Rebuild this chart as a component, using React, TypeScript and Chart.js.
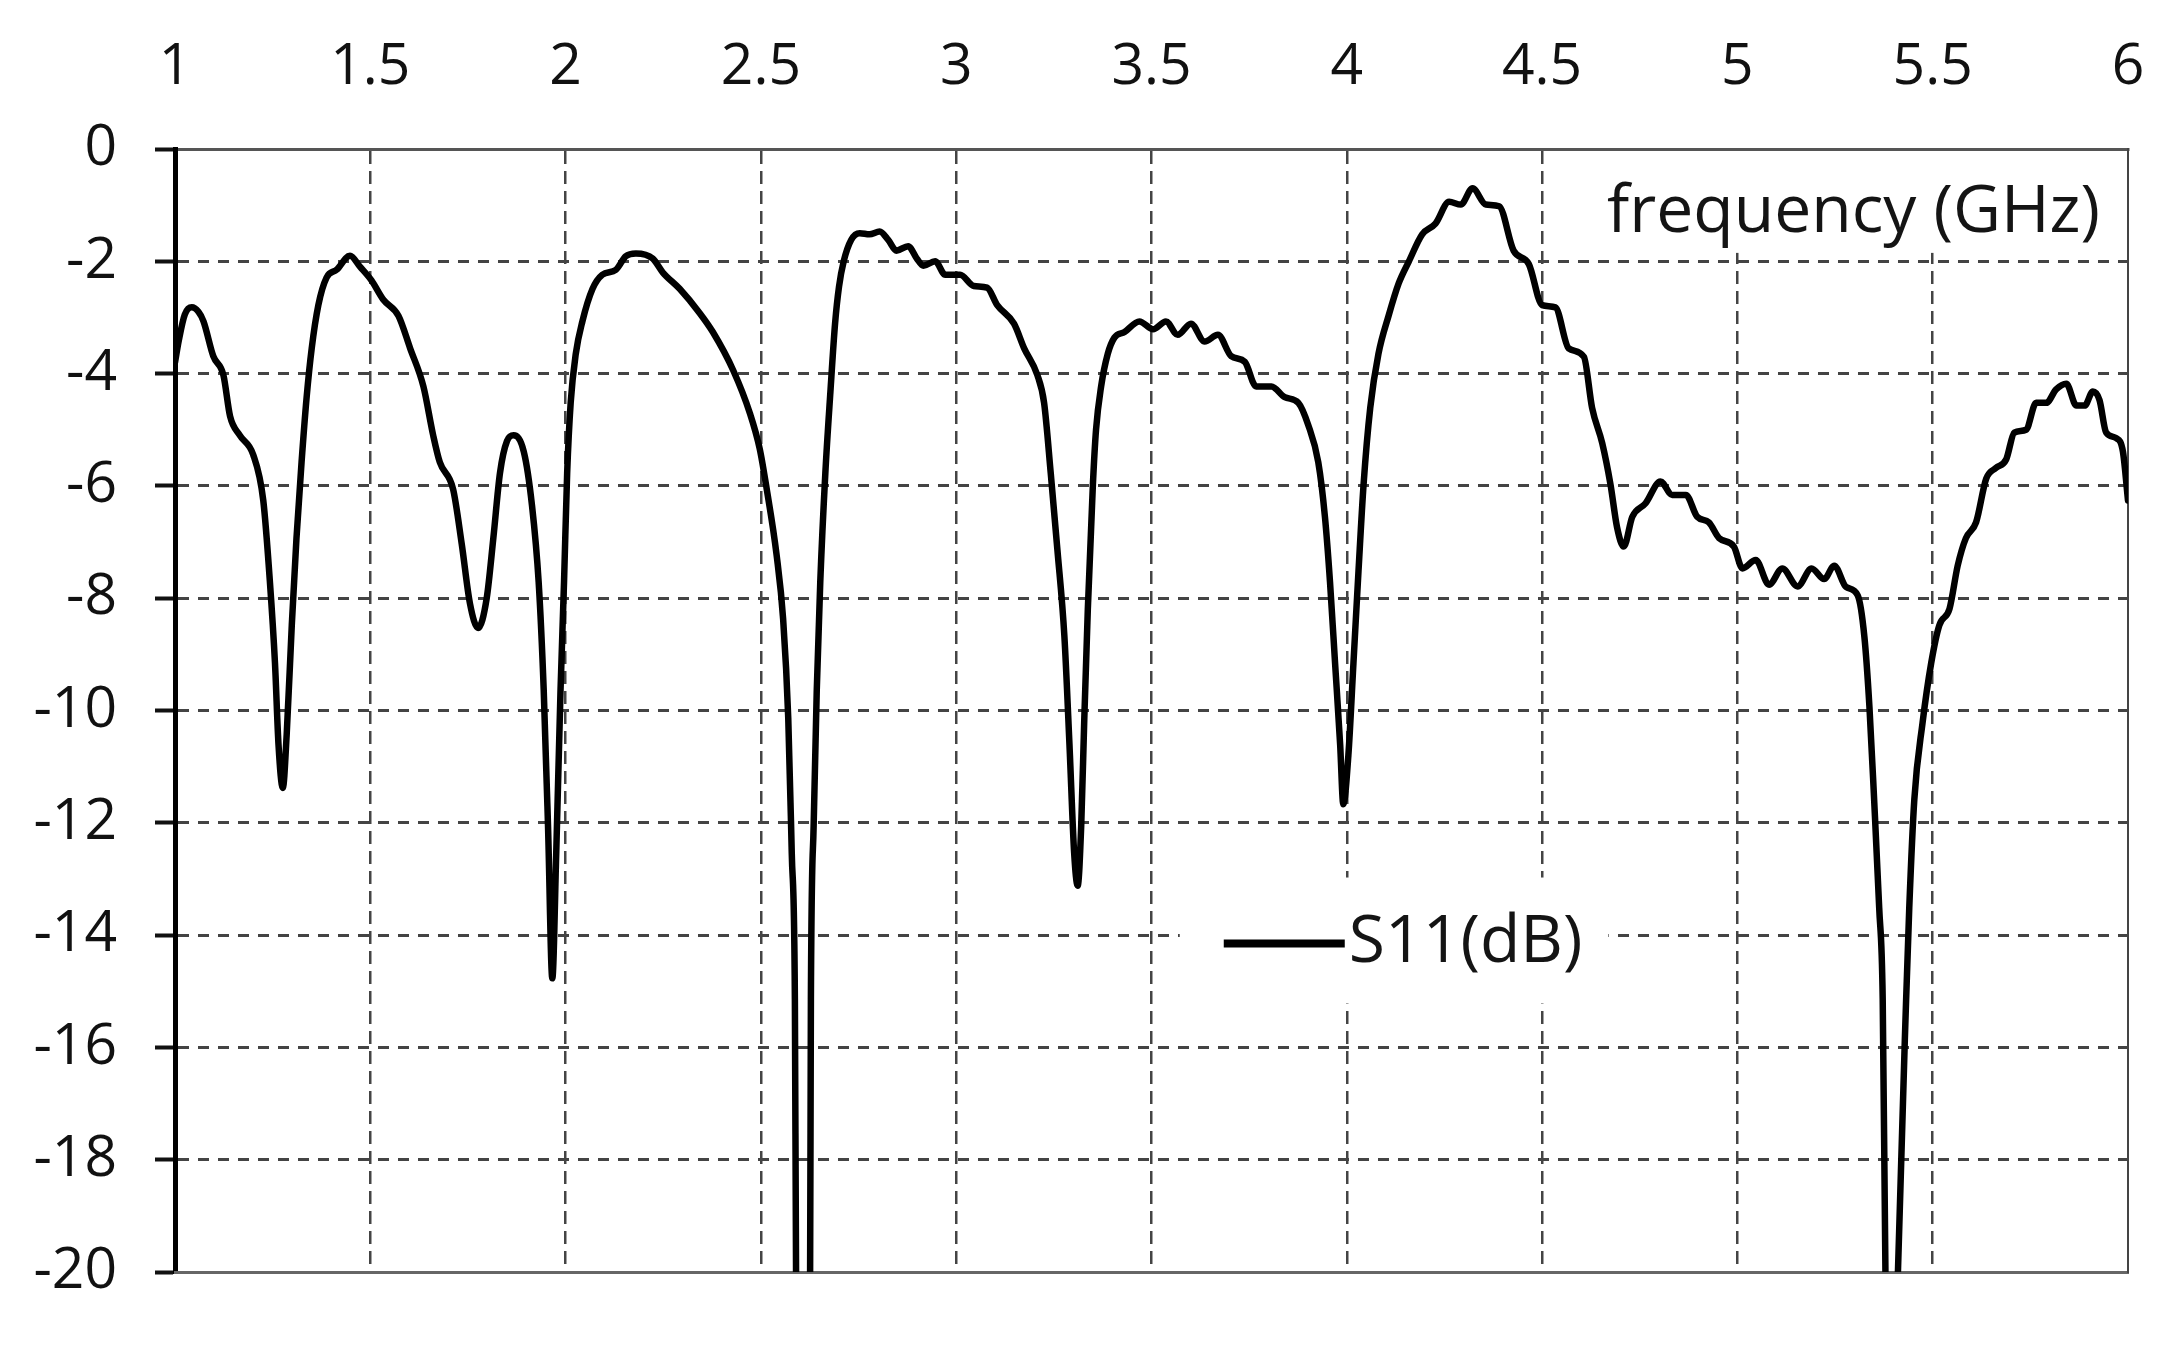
import React, { useEffect, useRef } from 'react';
import { Chart, registerables } from 'chart.js';

Chart.register(...registerables);

const FONT = "'Open Sans', sans-serif";

// Frequency samples (GHz)
const frequencyGHz = [
  1.0, 1.01, 1.025, 1.043, 1.06, 1.073, 1.098, 1.124, 1.141, 1.166, 1.2, 1.226, 1.243, 1.256, 1.265, 1.276,
  1.286, 1.299, 1.311, 1.324, 1.337, 1.35, 1.367, 1.388, 1.414, 1.448, 1.474, 1.503, 1.533, 1.572, 1.602,
  1.636, 1.661, 1.678, 1.712, 1.734, 1.755, 1.776, 1.798, 1.815, 1.832, 1.85, 1.867, 1.893, 1.914, 1.931,
  1.944, 1.955, 1.966, 1.976, 1.987, 1.996, 2.004, 2.013, 2.026, 2.043, 2.069, 2.094, 2.129, 2.154, 2.18,
  2.223, 2.249, 2.292, 2.343, 2.377, 2.429, 2.472, 2.497, 2.515, 2.54, 2.557, 2.57, 2.579, 2.587, 2.59,
  2.608, 2.626, 2.628, 2.635, 2.643, 2.652, 2.665, 2.678, 2.69, 2.7, 2.712, 2.731, 2.753, 2.778, 2.804,
  2.826, 2.847, 2.877, 2.899, 2.916, 2.946, 2.972, 3.01, 3.045, 3.079, 3.105, 3.148, 3.174, 3.208, 3.225,
  3.242, 3.259, 3.277, 3.29, 3.302, 3.311, 3.32, 3.328, 3.337, 3.35, 3.358, 3.371, 3.388, 3.405, 3.431,
  3.469, 3.504, 3.537, 3.567, 3.601, 3.636, 3.67, 3.704, 3.739, 3.768, 3.807, 3.841, 3.876, 3.901, 3.927,
  3.944, 3.957, 3.97, 3.983, 3.991, 4.004, 4.017, 4.03, 4.043, 4.06, 4.081, 4.107, 4.133, 4.159, 4.193,
  4.227, 4.262, 4.292, 4.322, 4.356, 4.39, 4.427, 4.466, 4.5, 4.534, 4.568, 4.607, 4.628, 4.654, 4.675,
  4.692, 4.709, 4.731, 4.765, 4.803, 4.833, 4.868, 4.897, 4.927, 4.953, 4.991, 5.013, 5.047, 5.081, 5.115,
  5.154, 5.19, 5.222, 5.248, 5.278, 5.308, 5.325, 5.338, 5.35, 5.363, 5.372, 5.379, 5.395, 5.411, 5.432,
  5.44, 5.453, 5.474, 5.496, 5.517, 5.543, 5.564, 5.585, 5.611, 5.637, 5.662, 5.688, 5.709, 5.739, 5.765,
  5.791, 5.816, 5.842, 5.868, 5.889, 5.91, 5.927, 5.944, 5.97, 5.987, 6.0,
];

// S11 magnitude (dB) at each frequency sample
const s11dB = [
  -3.8, -3.4, -2.95, -2.82, -2.9, -3.07, -3.69, -4.03, -4.76, -5.1, -5.44, -6.26, -7.71, -9.16, -10.61, -11.38,
  -10.42, -8.48, -6.93, -5.58, -4.42, -3.55, -2.78, -2.29, -2.15, -1.9, -2.1, -2.34, -2.68, -2.97, -3.55,
  -4.23, -5.1, -5.58, -6.06, -7.03, -8.09, -8.53, -8.0, -6.93, -5.77, -5.2, -5.1, -5.39, -6.35, -7.71,
  -9.64, -12.06, -14.77, -12.54, -9.64, -7.71, -5.77, -4.52, -3.65, -3.07, -2.49, -2.24, -2.15, -1.91, -1.86,
  -1.95, -2.2, -2.49, -2.92, -3.26, -3.94, -4.71, -5.34, -6.06, -7.22, -8.38, -10.13, -12.54, -15.14, -20,
  -25, -20, -15.14, -12.06, -9.64, -7.71, -5.77, -4.32, -3.1, -2.45, -2.0, -1.62, -1.5, -1.52, -1.47,
  -1.62, -1.81, -1.73, -1.95, -2.08, -2.0, -2.24, -2.24, -2.44, -2.47, -2.78, -3.11, -3.55, -4.03, -4.52,
  -5.77, -7.13, -8.68, -10.61, -12.54, -13.12, -12.06, -10.13, -8.19, -5.97, -5.0, -4.23, -3.65, -3.36, -3.26,
  -3.07, -3.21, -3.07, -3.31, -3.11, -3.43, -3.31, -3.69, -3.79, -4.23, -4.23, -4.42, -4.52, -4.91, -5.58,
  -6.55, -7.71, -9.16, -10.61, -11.67, -10.8, -9.16, -7.51, -5.97, -4.61, -3.65, -2.97, -2.39, -2.0, -1.52,
  -1.33, -0.94, -0.99, -0.7, -0.99, -1.02, -1.81, -2.05, -2.78, -2.82, -3.55, -3.7, -4.61, -5.24, -5.97,
  -6.74, -7.08, -6.55, -6.31, -5.92, -6.16, -6.16, -6.55, -6.65, -6.93, -7.08, -7.47, -7.32, -7.76, -7.47,
  -7.79, -7.47, -7.66, -7.42, -7.8, -7.95, -8.68, -9.93, -11.58, -13.51, -15.14, -20, -25, -20, -15.14,
  -13.51, -11.58, -10.22, -9.16, -8.48, -8.19, -7.42, -6.93, -6.65, -5.87, -5.68, -5.53, -5.05, -5.0, -4.52,
  -4.52, -4.28, -4.18, -4.57, -4.57, -4.32, -4.47, -5.05, -5.15, -5.39, -6.26,
];

const xRange = [1, 6];
const xTickStep = 0.5;
const yRange = [-20, 0];
const yTickStep = 2;
const seriesLabel = 'S11(dB)';
const xAxisTitle = 'frequency (GHz)';

const insideLabels = {
  id: 'insideLabels',
  afterDatasetsDraw(chart: any) {
    const { ctx, chartArea, scales } = chart;
    const xs = scales.x;
    const ys = scales.y;
    ctx.save();

    // axis title inside the plot, top right
    const title = chart.options.scales.x.title.text;
    ctx.font = `66px ${FONT}`;
    const tw = ctx.measureText(title).width;
    const tx = chartArea.right - 28;
    const ty = chartArea.top + 64;
    const boxBottom = ys.getPixelForValue(-1.85);
    ctx.fillStyle = '#ffffff';
    ctx.fillRect(tx - tw - 26, chartArea.top + 2, tw + 26 + 25, boxBottom - chartArea.top - 2);
    ctx.fillStyle = '#141414';
    ctx.textAlign = 'right';
    ctx.textBaseline = 'middle';
    ctx.fillText(title, tx, ty);

    // legend inside the plot
    const ds = chart.data.datasets[0];
    const lx = xs.getPixelForValue(3.685);
    const ly = ys.getPixelForValue(-14.15);
    ctx.font = `66px ${FONT}`;
    const lw = ctx.measureText(ds.label).width;
    const lineLen = 121;
    const textX = lx + lineLen + 4;
    ctx.fillStyle = '#ffffff';
    ctx.fillRect(lx - 44, ly - 66, lineLen + 4 + lw + 26 + 44, 126);
    ctx.strokeStyle = ds.borderColor;
    ctx.lineWidth = 8;
    ctx.beginPath();
    ctx.moveTo(lx, ly);
    ctx.lineTo(lx + lineLen, ly);
    ctx.stroke();
    ctx.fillStyle = '#141414';
    ctx.textAlign = 'left';
    ctx.textBaseline = 'middle';
    ctx.fillText(ds.label, textX, ly);
    ctx.restore();
  },
};

const edgeAware = (minV: number, maxV: number, color: string) => (c: any) => {
  const v = c.tick ? c.tick.value : NaN;
  return Math.abs(v - minV) < 1e-9 || Math.abs(v - maxV) < 1e-9 ? 'rgba(0,0,0,0)' : color;
};

export default function App() {
  const canvasRef = useRef<HTMLCanvasElement | null>(null);

  useEffect(() => {
    const canvas = canvasRef.current;
    if (!canvas) return;
    const points = frequencyGHz.map((f, i) => ({ x: f, y: s11dB[i] }));
    const chart = new Chart(canvas, {
      type: 'line',
      data: {
        datasets: [
          {
            label: seriesLabel,
            data: points,
            borderColor: '#000000',
            backgroundColor: '#000000',
            borderWidth: 6.5,
            pointRadius: 0,
            cubicInterpolationMode: 'monotone',
            borderJoinStyle: 'round',
            borderCapStyle: 'round',
            fill: false,
          },
        ],
      },
      options: {
        responsive: false,
        animation: false,
        devicePixelRatio: 1,
        layout: { padding: { left: 0, top: 0, right: 36, bottom: 73 } },
        plugins: {
          legend: { display: false },
          tooltip: { enabled: false },
        },
        scales: {
          x: {
            type: 'linear',
            position: 'top',
            min: xRange[0],
            max: xRange[1],
            title: { display: false, text: xAxisTitle },
            ticks: {
              stepSize: xTickStep,
              autoSkip: false,
              maxRotation: 0,
              padding: 0,
              color: '#111111',
              font: { family: FONT, size: 57 },
              callback: (v: any) => String(Math.round(Number(v) * 100) / 100),
            },
            grid: {
              color: edgeAware(xRange[0], xRange[1], '#444444'),
              lineWidth: 2.5,
              drawTicks: true,
              tickLength: 47,
              tickColor: 'rgba(0,0,0,0)',
            },
            border: { display: true, color: '#555555', width: 3, dash: [13, 7] },
            afterFit: (s: any) => {
              s.height = 149;
            },
          },
          y: {
            type: 'linear',
            position: 'left',
            min: yRange[0],
            max: yRange[1],
            ticks: {
              stepSize: yTickStep,
              padding: 38,
              color: '#111111',
              font: { family: FONT, size: 57 },
            },
            grid: {
              color: edgeAware(yRange[0], yRange[1], '#444444'),
              lineWidth: 3,
              drawTicks: true,
              tickLength: 20,
              tickWidth: 4,
              tickColor: '#111111',
            },
            border: { display: true, color: '#000000', width: 5, dash: [11, 9] },
            afterFit: (s: any) => {
              s.width = 175;
            },
          },
          x2: {
            type: 'linear',
            position: 'bottom',
            min: xRange[0],
            max: xRange[1],
            display: true,
            ticks: { display: false },
            grid: { display: false, drawTicks: false },
            border: { display: true, color: '#666666', width: 3 },
            afterFit: (s: any) => {
              s.height = 0;
            },
          },
          y2: {
            type: 'linear',
            position: 'right',
            min: yRange[0],
            max: yRange[1],
            display: true,
            ticks: { display: false },
            grid: { display: false, drawTicks: false },
            border: { display: true, color: '#444444', width: 2 },
            afterFit: (s: any) => {
              s.width = 0;
            },
          },
        },
      },
      plugins: [insideLabels],
    } as any);
    return () => {
      chart.destroy();
    };
  }, []);

  return (
    <div
      style={{
        position: 'fixed',
        left: 0,
        top: 0,
        width: 2164,
        height: 1345,
        background: '#ffffff',
      }}
    >
      <canvas ref={canvasRef} width={2164} height={1345} style={{ display: 'block' }} />
    </div>
  );
}
